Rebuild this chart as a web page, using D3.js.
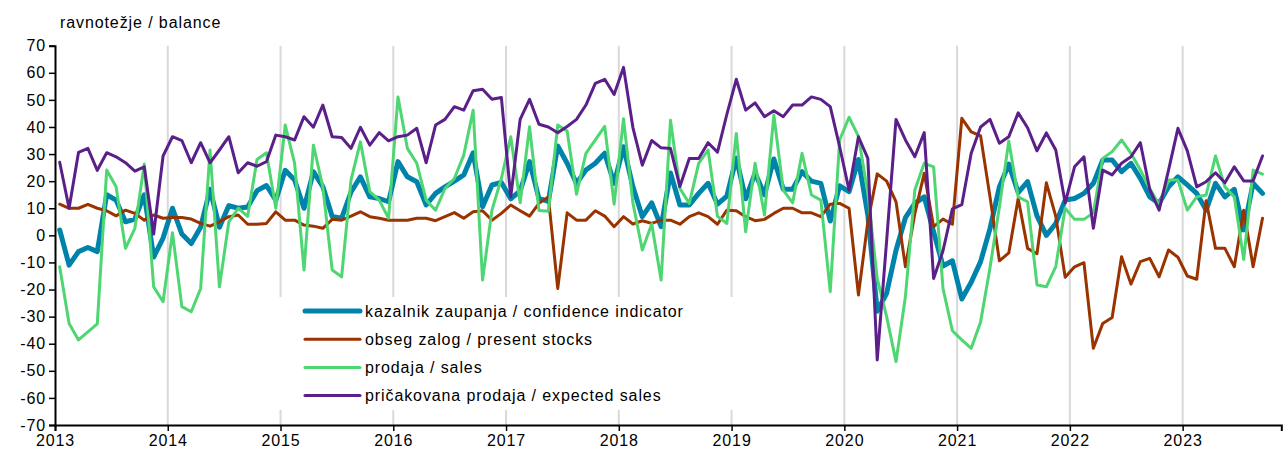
<!DOCTYPE html>
<html><head><meta charset="utf-8">
<script src="https://cdn.jsdelivr.net/npm/d3@7"></script>
<style>
body{margin:0;background:#fff;}
text{font-family:Arial,"Liberation Sans",sans-serif;}
</style></head>
<body>
<svg id="chart" width="1286" height="454"></svg>
<script>
// Monthly data Jan 2013 – Sep 2023
const startYear = 2013;
const yearLabels = ["2013","2014","2015","2016","2017","2018","2019","2020","2021","2022","2023"];
const yTicks = [-70,-60,-50,-40,-30,-20,-10,0,10,20,30,40,50,60,70];
const seriesNames = ["kazalnik zaupanja / confidence indicator","obseg zalog / present stocks","prodaja / sales","pričakovana prodaja / expected sales"];
const seriesColors = ["#0083ab","#993300","#4ed672","#5b1f8a"];

const confidence = [2,-11,-6,-4.5,-6,15,13,5,6,15,-8,-1,
 10,0.5,-3,3,17,3,11,10,10.5,16.5,18.4,13,
 24,20.4,10,23.5,18,7,6.3,16,21.6,14.2,13.6,12.4,
 27.2,21.6,19.8,11.2,15.5,17.9,20,22.3,30.5,10.6,18.6,19.5,
 13.5,16.4,27.2,13.6,12.5,33,26.6,19.2,24.1,26.6,30.3,19.2,
 32.7,17.9,6.9,12,3.2,23,11.2,11.2,15.5,19.2,11.5,14.5,
 28.5,13.5,23,15,28.2,17,17,23.5,20,19.2,5.3,18.3,
 16.1,28,7.5,-28,-21.4,-5.5,6.5,11.8,14.2,1.3,-11.3,-9.4,
 -23.5,-17.3,-9.7,2.5,17.9,26.3,15.8,19.8,7.2,0,4.4,13,
 13.6,15.5,19.2,27.8,27.8,23.5,26.6,21,14.2,11.8,17.9,21.6,
 18.6,15.5,9.3,19.2,14.2,17,2,19.2,15.5];
const stocks = [11.5,10,10,11.4,10,9.1,7.2,9.3,8.1,5.6,7.5,6.3,
 6.6,6.6,6,4.4,3.4,5,6.9,7.5,4.1,4.1,4.4,8.7,
 5.6,5.6,3.8,3.4,2.6,5.9,5.6,7.1,8.7,6.9,6.3,5.6,
 5.6,5.6,6.3,6.3,5.4,6.9,8.4,6.3,8.7,9.1,5.6,8.1,
 11.2,9.1,7.1,11.8,14.2,-19.6,8.3,5.6,5.6,9.1,7.1,3.2,
 6.9,4.2,5.4,4.4,5.6,5.6,4.1,6.9,8.3,6.9,4.1,9.3,
 9.1,6.9,5.4,5.9,8.1,10,10,8.3,8.3,6.9,11.5,11.8,
 10,-22,5,22.7,20,12.4,-11.6,8,22.9,3.2,6,4.1,
 43.2,38.2,36.7,14.2,-9.4,-6.5,13.6,-4.8,-6.8,19.4,7,-15.5,
 -11.6,-10.1,-41.7,-32.5,-30.3,-7.9,-18,-9.7,-8.5,-15.3,-5.4,-8.1,
 -15,-16.2,12.8,-4.8,-4.8,-11.6,9.3,-11.6,6.3];
const sales = [-11.6,-32.5,-38.6,-35.6,-32.7,24.1,17.9,-4.8,2.6,26.3,-19,-24.5,
 1,-26.3,-28.2,-19.6,31.5,-19,5,10,7,28,30.5,10,
 40.7,26.6,-12.8,33.3,17.9,-12.8,-15.3,20.4,34.5,16.1,13,6.3,
 51.1,32.1,26.6,13,9.3,17.3,21,29.6,46.2,-16.5,9.3,21,
 36.4,12,40.1,9.2,8.9,40.7,38.5,15.2,30.3,35.2,40.2,11.5,
 43,12,-5.4,4.2,-16.5,42.5,17.3,11.8,26.6,31.5,7,4.4,
 37.6,1.3,26.6,7.5,44.4,16.7,12,30.3,14.9,13,-20.8,35.2,
 43.6,36.5,15.5,-16,-30,-46.6,-22.6,16.7,26.6,25.3,-19.6,-35.2,
 -38.6,-41.7,-32,-12,10.5,34.8,14.2,12.4,-18.3,-19,-11.5,10,
 5.9,5.9,8.3,28.4,30.9,35.2,30.3,24.1,17.3,11.2,20.4,20.4,
 9.3,14.2,14.9,29.3,17.9,14.2,-8.9,24.1,22.6];
const expectedSales = [27,10,30.6,32.1,24,30.5,29,26.8,23.7,25.3,0.5,29.3,
 36.4,35,26.8,34.2,26.8,31.5,36.4,23.1,26.8,25.5,27.2,37,
 36.4,35.2,43.8,39.9,48.1,36.4,36.1,32.1,39.9,33.3,37.9,34.9,
 36.4,37,39.5,26.8,40.7,42.8,47.5,46.2,53.4,53.9,50.2,50.9,
 14.2,42.8,50.2,41,40,37.9,40.2,42.8,48.1,56.1,57.6,52,
 62,39.8,25.9,35,32.3,32.1,18,28.4,28.4,34.2,30.7,44.7,
 57.6,46.2,48.9,43.8,46,43.8,48.1,48.1,51.1,50.2,47.5,32.7,
 16.7,36.4,28.4,-46,-2,42.8,35.2,29,37.9,-15.9,-5.7,9.8,
 11.3,30.3,40,42.8,34,36.4,45.2,39.7,31.2,37.8,31.5,12,
 25.3,29,2.6,24.1,22.3,26.6,29,34.2,17,9.3,24.1,39.5,
 31.2,17.9,19.8,23.1,19.4,25.3,20.1,20.1,29.3];

const allSeries = [confidence, stocks, sales, expectedSales];
const widths = [5, 3, 3, 3];
const FONT = 16, LS = 0.9;

const svg = d3.select("#chart");
const x = d3.scaleLinear().domain([0, 130.5]).range([55, 1281.3]);
const y = d3.scaleLinear().domain([-70, 70]).range([425, 45.7]);

// vertical gridlines at each year (except first)
svg.append("g").selectAll("line")
  .data(yearLabels.slice(1).map((d,i)=> (i+1)*12))
  .join("line")
  .attr("x1", d=>x(d)).attr("x2", d=>x(d))
  .attr("y1", y(70)).attr("y2", y(-70))
  .attr("stroke", "#d9d9d9").attr("stroke-width", 2);

// legend background (covers gridlines)
const legX = 305, legY0 = 311, legDy = 28.2;
svg.append("rect").attr("x", 272).attr("y", 297).attr("width", 468).attr("height", 113).attr("fill", "#fff");

// series lines
const line = d3.line().x((d,i)=>x(i+0.5)).y(d=>y(d));
allSeries.forEach((s, k) => {
  svg.append("path").datum(s)
    .attr("d", line)
    .attr("fill", "none")
    .attr("stroke", seriesColors[k])
    .attr("stroke-width", widths[k])
    .attr("stroke-linejoin", "round")
    .attr("stroke-linecap", "round");
});

// y axis
const yAxis = d3.axisLeft(y).tickValues(yTicks).tickSize(6).tickPadding(3).tickFormat(d=>String(d));
const gy = svg.append("g").attr("transform", `translate(${x(0)},0)`).call(yAxis);
gy.select(".domain").attr("stroke", "#000").attr("stroke-width", 2);
gy.selectAll(".tick line").attr("stroke", "#000").attr("stroke-width", 1.5);
gy.selectAll("text").attr("font-size", FONT).attr("letter-spacing", LS).attr("fill", "#000").attr("font-family", "Arial, 'Liberation Sans', sans-serif");

// x axis
const xAxis = d3.axisBottom(x).tickValues(yearLabels.map((d,i)=>i*12)).tickSize(6).tickPadding(4)
  .tickFormat((d,i)=>yearLabels[i]);
const gx = svg.append("g").attr("transform", `translate(0,${y(-70)})`).call(xAxis);
gx.select(".domain").attr("stroke", "#000").attr("stroke-width", 2);
gx.selectAll(".tick line").attr("stroke", "#000").attr("stroke-width", 1.5);
gx.selectAll("text").attr("font-size", FONT).attr("letter-spacing", LS).attr("fill", "#000").attr("font-family", "Arial, 'Liberation Sans', sans-serif");

// axis title
svg.append("text").attr("x", 60).attr("y", 28).attr("font-size", FONT).attr("letter-spacing", LS).attr("fill", "#000").text("ravnotežje / balance");

// legend
seriesNames.forEach((name, k) => {
  const yy = legY0 + k*legDy;
  svg.append("line").attr("x1", legX).attr("x2", legX+55).attr("y1", yy).attr("y2", yy)
    .attr("stroke", seriesColors[k]).attr("stroke-width", widths[k]).attr("stroke-linecap", "round");
  svg.append("text").attr("x", legX+60).attr("y", yy+5.5).attr("font-size", FONT).attr("letter-spacing", LS).attr("fill", "#000").text(name);
});
</script>
</body></html>
